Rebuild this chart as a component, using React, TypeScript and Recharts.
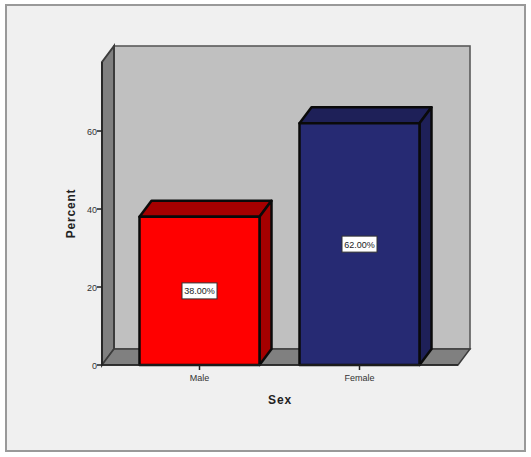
import React from "react";
import { BarChart, Bar, XAxis, YAxis, ReferenceArea, LabelList } from "recharts";

const categories = ["Male", "Female"];
const percents = [38, 62];
const yTicks = [0, 20, 40, 60];
const yMax = 77.7;

const faceColors = ["#ff0000", "#262a73"];
const sideColors = ["#a50000", "#1e2058"];

const chartData = categories.map((name, i) => ({ name, percent: percents[i] }));

// how far the back of the box sits from the front
const DEPTH_X = 12;
const DEPTH_Y = 16;
const PAD_LEFT = 17.5;
const PAD_RIGHT = 18.5;
const font = "'Liberation Sans', Arial, sans-serif";

const poly = (pts: number[][]) => pts.map((p) => p.join(",")).join(" ");

function Walls({ x, y, width, height }: any) {
  // the reference area stops at the axis padding, the box does not
  const left = x - PAD_LEFT;
  const right = x + width + PAD_RIGHT;
  const bottom = y + height;
  return (
    <g>
      <rect x={left + DEPTH_X} y={y - DEPTH_Y} width={right - left} height={height} fill="#c0c0c0" stroke="#5a5a5a" strokeWidth={1.6} />
      <polygon
        points={poly([[left, y], [left + DEPTH_X, y - DEPTH_Y], [left + DEPTH_X, bottom - DEPTH_Y], [left, bottom]])}
        fill="#808080"
        stroke="#3c3c3c"
        strokeWidth={2}
      />
      <polygon
        points={poly([[left, bottom], [left + DEPTH_X, bottom - DEPTH_Y], [right + DEPTH_X, bottom - DEPTH_Y], [right, bottom]])}
        fill="#808080"
        stroke="#3c3c3c"
        strokeWidth={1.5}
      />
    </g>
  );
}

function Box3D({ x, y, width, height, index }: any) {
  const right = x + width;
  const bottom = y + height;
  const line = { stroke: "#0a0a0a", strokeWidth: 2.5, strokeLinejoin: "round" as const };
  return (
    <g>
      <polygon
        points={poly([[x, y], [x + DEPTH_X, y - DEPTH_Y], [right + DEPTH_X, y - DEPTH_Y], [right, y]])}
        fill={sideColors[index]}
        {...line}
      />
      <polygon
        points={poly([[right, y], [right + DEPTH_X, y - DEPTH_Y], [right + DEPTH_X, bottom - DEPTH_Y], [right, bottom]])}
        fill={sideColors[index]}
        {...line}
      />
      <rect x={x} y={y} width={width} height={height} fill={faceColors[index]} {...line} />
    </g>
  );
}

function PercentBox({ x, y, width, height, value }: any) {
  const cx = x + width / 2;
  const cy = y + height / 2;
  return (
    <g>
      <rect x={cx - 17.5} y={cy - 8} width={35} height={16} fill="#fff" stroke="#333" strokeWidth={1} />
      <text x={cx} y={cy + 3.5} textAnchor="middle" fontSize={9} fontFamily={font} fill="#222">
        {value.toFixed(2)}%
      </text>
    </g>
  );
}

const tickStyle = { fontSize: 9, fontFamily: font, fill: "#333" };
const titleStyle = { fontSize: 12, fontWeight: "bold", fontFamily: font, fill: "#222", letterSpacing: 0.8 };

export default function App() {
  return (
    <div style={{ position: "absolute", left: 0, top: 0, width: 531, height: 457, background: "#fff", overflow: "hidden" }}>
      <div
        style={{
          position: "absolute",
          left: 5,
          top: 4,
          width: 517,
          height: 444,
          background: "#f0f0f0",
          border: "2px solid #999",
        }}
      />
      <div style={{ position: "absolute", left: 0, top: 0 }}>
        <BarChart
          width={531}
          height={457}
          data={chartData}
          barSize={120}
          margin={{ top: 62, right: 73, left: 62, bottom: 52 }}
        >
          <ReferenceArea y1={0} y2={yMax} shape={Walls} ifOverflow="visible" />
          <XAxis
            dataKey="name"
            height={40}
            padding={{ left: PAD_LEFT, right: PAD_RIGHT }}
            tick={tickStyle}
            tickSize={5}
            tickMargin={5}
            stroke="#222"
            strokeWidth={1.5}
            label={{ value: "Sex", position: "insideBottom", offset: 1, style: titleStyle }}
          />
          <YAxis
            width={40}
            domain={[0, yMax]}
            ticks={yTicks}
            tick={{ ...tickStyle, dy: 1 }}
            tickSize={5}
            tickMargin={0}
            stroke="#222"
            strokeWidth={1.5}
            label={{ value: "Percent", angle: -90, position: "insideLeft", offset: 9, textAnchor: "middle", style: titleStyle }}
          />
          <Bar dataKey="percent" shape={Box3D} isAnimationActive={false}>
            <LabelList dataKey="percent" content={PercentBox} />
          </Bar>
        </BarChart>
      </div>
    </div>
  );
}
